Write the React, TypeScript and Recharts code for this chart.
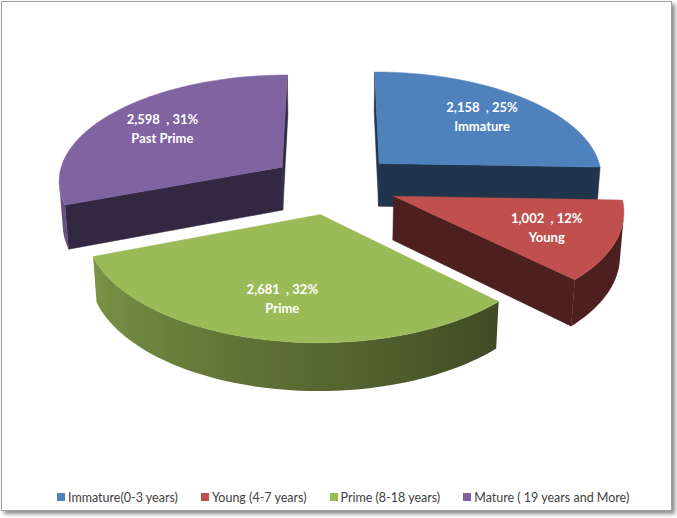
import React from "react";
import { PieChart, Pie, Cell, Legend } from "recharts";

const categories = [
  "Immature(0-3 years)",
  "Young (4-7 years)",
  "Prime (8-18 years)",
  "Mature ( 19 years and More)",
];
const sliceNames = ["Immature", "Young", "Prime", "Past Prime"];
const counts = [2158, 1002, 2681, 2598];
const shares = [25, 12, 32, 31];

const COLORS = ["#4F81BD", "#C0504D", "#9BBB59", "#8064A2"];

const W = 677;
const H = 518;

// 3d look: tilt, perspective, explode and thickness (relative to radius)
const SIN_T = 0.472;
const COS_T = 0.882;
const FOCAL = 7.8;
const EXPLODE = 0.285;
const DEPTH = 0.222;
const LABEL_R = 0.7;
const RAD = Math.PI / 180;

const rows = categories.map((name, i) => ({
  name,
  short: sliceNames[i],
  value: counts[i],
  share: shares[i],
}));

type P = [number, number];

function project(cx: number, cy: number, r: number, X: number, Y: number, Z: number): P {
  const yp = Y * COS_T + Z * SIN_T;
  const zp = -Y * SIN_T + Z * COS_T;
  const s = (FOCAL * r) / (FOCAL * r + zp);
  return [cx + X * s, cy - yp * s];
}

function shade(hex: string, k: number) {
  const n = parseInt(hex.slice(1), 16);
  const c = [(n >> 16) & 255, (n >> 8) & 255, n & 255].map((v) => Math.round(v * k));
  return `rgb(${c[0]},${c[1]},${c[2]})`;
}

function area(pts: P[]) {
  let s = 0;
  for (let i = 0; i < pts.length; i++) {
    const a = pts[i];
    const b = pts[(i + 1) % pts.length];
    s += a[0] * b[1] - b[0] * a[1];
  }
  return s;
}

const toPath = (pts: P[]) => "M" + pts.map((p) => `${p[0].toFixed(2)},${p[1].toFixed(2)}`).join("L") + "Z";

// side brightness, brighter toward the front-left
const sideK = (a: number) => 0.4 + 0.4 * Math.min(1, Math.max(0, (-45 - a) / 115));

function Slice3D(props: any) {
  const { cx, cy, startAngle, endAngle, outerRadius, fill } = props;
  const r = outerRadius;
  const mid = (startAngle + endAngle) / 2;
  const ox = EXPLODE * r * Math.cos(mid * RAD);
  const oz = EXPLODE * r * Math.sin(mid * RAD);
  const h = -DEPTH * r;
  const pt = (a: number, rr: number, Y: number) =>
    project(cx, cy, r, ox + rr * Math.cos(a * RAD), Y, oz + rr * Math.sin(a * RAD));

  const n = Math.max(8, Math.ceil(Math.abs(startAngle - endAngle) / 2));
  const angles: number[] = [];
  for (let i = 0; i <= n; i++) angles.push(startAngle + ((endAngle - startAngle) * i) / n);

  const top: P[] = [pt(0, 0, 0), ...angles.map((a) => pt(a, r, 0))];
  const sign = Math.sign(area(top));
  const dark = shade(fill, 0.4);

  const radial: P[][] = [
    [pt(startAngle, r, 0), pt(0, 0, 0), pt(0, 0, h), pt(startAngle, r, h)],
    [pt(0, 0, 0), pt(endAngle, r, 0), pt(endAngle, r, h), pt(0, 0, h)],
  ].filter((f) => Math.sign(area(f as P[])) === sign) as P[][];

  // visible part of the curved outer wall
  const vis: number[] = [];
  for (let i = 0; i < n; i++) {
    const a = angles[i];
    const b = angles[i + 1];
    const q: P[] = [pt(b, r, 0), pt(a, r, 0), pt(a, r, h), pt(b, r, h)];
    if (Math.sign(area(q)) === sign) vis.push(i);
  }
  let wall: React.ReactNode = null;
  if (vis.length) {
    const i0 = vis[0];
    const i1 = vis[vis.length - 1] + 1;
    const arc = angles.slice(i0, i1 + 1);
    const tops = arc.map((a) => pt(a, r, 0));
    const bots = arc.map((a) => pt(a, r, h));
    const poly = [...tops, ...bots.reverse()];
    const xs = tops.map((p) => p[0]);
    const x0 = Math.min(...xs);
    const x1 = Math.max(...xs);
    const id = `wall-${String(props.name ?? mid).replace(/[^a-zA-Z0-9]/g, "")}`;
    const stops = arc
      .map((a, i) => ({ o: x1 > x0 ? (xs[i] - x0) / (x1 - x0) : 0, c: shade(fill, sideK(a)) }))
      .sort((u, v) => u.o - v.o);
    wall = (
      <>
        <defs>
          <linearGradient id={id} gradientUnits="userSpaceOnUse" x1={x0} y1={0} x2={x1} y2={0}>
            {stops.map((s, i) => (
              <stop key={i} offset={s.o} stopColor={s.c} />
            ))}
          </linearGradient>
        </defs>
        <path d={toPath(poly)} fill={`url(#${id})`} />
      </>
    );
  }

  return (
    <g>
      {radial.map((f, i) => (
        <path key={i} d={toPath(f)} fill={dark} stroke={dark} strokeWidth={0.5} strokeLinejoin="round" />
      ))}
      {wall}
      <path d={toPath(top)} fill={fill} stroke={fill} strokeWidth={0.5} />
    </g>
  );
}

const renderLabel = (props: any) => {
  const { cx, cy, startAngle, endAngle, outerRadius, payload } = props;
  const r = outerRadius;
  const mid = ((startAngle + endAngle) / 2) * RAD;
  const X = (EXPLODE + LABEL_R) * r * Math.cos(mid);
  const Z = (EXPLODE + LABEL_R) * r * Math.sin(mid);
  const [x, y] = project(cx, cy, r, X, 0, Z);
  const row = payload?.payload ?? payload;
  const style = { fontFamily: "Lato", fontSize: 13, fontWeight: 700 };
  return (
    <g>
      <text x={x} y={y - 9.5} fill="#fff" textAnchor="middle" dominantBaseline="central" style={style}>
        {`${row.value.toLocaleString("en-US")}\u00A0 , ${row.share}%`}
      </text>
      <text x={x} y={y + 9.5} fill="#fff" textAnchor="middle" dominantBaseline="central" style={style}>
        {row.short}
      </text>
    </g>
  );
};

const renderLegend = (props: any) => {
  const items = [...(props.payload ?? [])].sort(
    (a: any, b: any) => categories.indexOf(a.value) - categories.indexOf(b.value)
  );
  return (
    <div
      style={{
        display: "flex",
        alignItems: "center",
        paddingLeft: 57,
        fontFamily: "Lato",
        fontSize: 12.5,
        color: "#404040",
        whiteSpace: "nowrap",
        height: 14,
      }}
    >
      {items.map((p: any, i: number) => (
        <div key={i} style={{ display: "flex", alignItems: "center", marginRight: 23 }}>
          <span style={{ width: 8, height: 8, background: p.color, marginRight: 3, display: "inline-block" }} />
          <span>{p.value}</span>
        </div>
      ))}
    </div>
  );
};

export default function App() {
  return (
    <div style={{ position: "fixed", left: 0, top: 0, width: W, height: H, background: "#fff" }}>
      <div
        style={{
          position: "absolute",
          left: 1,
          top: 1,
          width: 669,
          height: 508,
          border: "1px solid #a0a0a0",
          boxShadow: "3px 3px 4px rgba(0,0,0,0.45)",
          background: "#fff",
        }}
      />
      <div style={{ position: "absolute", left: 0, top: 0 }}>
        <PieChart width={W} height={H} margin={{ top: 0, right: 0, bottom: 0, left: 0 }}>
          <Pie
            data={rows}
            dataKey="value"
            nameKey="name"
            cx={334}
            cy={184}
            outerRadius={225}
            startAngle={90}
            endAngle={-270}
            stroke="none"
            shape={Slice3D}
            label={renderLabel}
            labelLine={false}
            isAnimationActive={false}
          >
            {rows.map((r, i) => (
              <Cell key={r.name} fill={COLORS[i]} />
            ))}
          </Pie>
          <Legend content={renderLegend} wrapperStyle={{ left: 0, top: 490, width: W }} />
        </PieChart>
      </div>
    </div>
  );
}
